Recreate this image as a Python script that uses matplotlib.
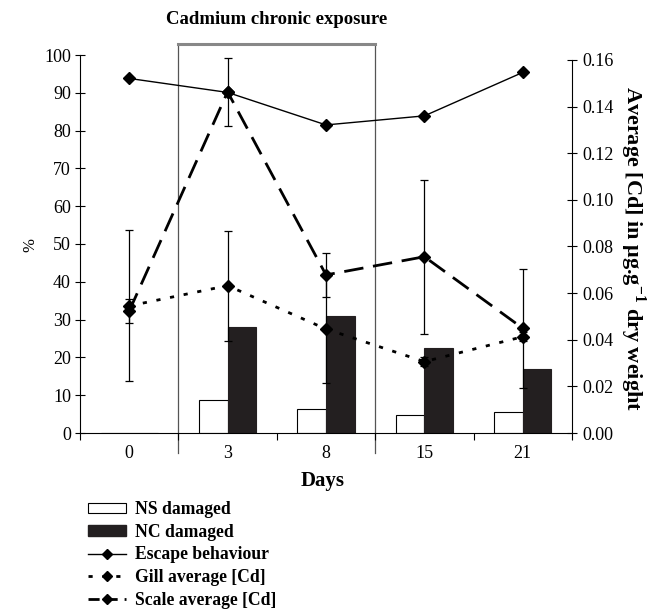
import numpy as np
import matplotlib.pyplot as plt
from matplotlib.lines import Line2D
from matplotlib.patches import Patch
import matplotlib.transforms as mtransforms

plt.rcParams['font.family'] = ['Liberation Serif', 'DejaVu Serif']
plt.rcParams['mathtext.fontset'] = 'custom'
plt.rcParams['mathtext.rm'] = 'Liberation Serif'
plt.rcParams['mathtext.bf'] = 'Liberation Serif:bold'

# dane
days = ['0', '3', '8', '15', '21']
ns_damaged = [0, 8.7, 6.3, 4.7, 5.6]
nc_damaged = [0, 28.0, 31.0, 22.4, 16.8]
escape = [93.8, 90.1, 81.5, 83.9, 95.4]
gill_cd = [0.0545, 0.0632, 0.0446, 0.0306, 0.0413]
gill_err = [0.0324, 0.0236, 0.0232, 0.002, 0.002]
scale_cd = [0.0523, 0.1463, 0.0678, 0.0756, 0.0449]
scale_err = [0.0051, 0.0146, 0.0093, 0.033, 0.0255]

x = np.arange(len(days))
szer = 0.29

fig = plt.figure(figsize=(6.49, 6.11), dpi=100)
ax = fig.add_axes([80/649, 1-433/611, 492/649, 378/611])

ax.bar(x - szer/2, ns_damaged, szer, color='white', edgecolor='black', linewidth=0.8, zorder=2)
ax.bar(x + szer/2, nc_damaged, szer, color='#231f20', edgecolor='#231f20', linewidth=0.8, zorder=2)
ax.plot(x, escape, color='black', lw=1, marker='D', ms=6, zorder=4)

ax.set_xlim(-0.5, 4.5)
ax.set_ylim(0, 100)
ax.set_yticks(range(0, 101, 10))
ax.set_xticks(x)
ax.set_xticklabels(days)
ax.set_xticks(np.arange(-0.5, 4.6, 1), minor=True)
ax.tick_params(axis='x', which='major', length=0, pad=9, labelsize=13)
ax.tick_params(axis='x', which='minor', length=5, direction='out', width=0.8)
ax.tick_params(axis='y', length=7, direction='inout', width=0.8, labelsize=13, pad=3)
ax.spines['top'].set_visible(False)
ax.spines['right'].set_visible(False)

ax2 = ax.twinx()
ax2.errorbar(x, gill_cd, yerr=gill_err, color='black', lw=2, dashes=(1.5, 3.5),
             marker='D', ms=6, ecolor='black', elinewidth=0.9, capsize=3, capthick=0.9, zorder=5)
ax2.errorbar(x, scale_cd, yerr=scale_err, color='black', lw=2, dashes=(7, 3.5),
             marker='D', ms=6, ecolor='black', elinewidth=0.9, capsize=3, capthick=0.9, zorder=5)
ax2.set_ylim(0, 0.16*100/98.7)
ax2.set_yticks(np.arange(0, 0.161, 0.02))
ax2.set_yticklabels([f"{v:.2f}" for v in np.arange(0, 0.161, 0.02)])
ax2.tick_params(axis='y', length=7, direction='inout', width=0.8, labelsize=13, pad=4)
ax2.spines['right'].set_bounds(0, 0.16)
for s in ['top', 'left', 'bottom']:
    ax2.spines[s].set_visible(False)

# ramka ekspozycji
tr = mtransforms.blended_transform_factory(ax.transData, ax.transAxes)
gora = (433-44)/378
dol = (433-453)/378
for xx in [0.5, 2.5]:
    ax.plot([xx, xx], [dol, gora], color='#555555', lw=0.9, transform=tr, clip_on=False, zorder=1)
ax.plot([0.5, 2.5], [gora, gora], color='#888888', lw=2.2, transform=tr, clip_on=False, zorder=1)

fig.text(277/649, 1-20/611, 'Cadmium chronic exposure', ha='center', va='center',
         fontsize=13.5, fontweight='bold')
fig.text(323/649, 1-481/611, 'Days', ha='center', va='center', fontsize=15, fontweight='bold')
fig.text(30/649, 1-245/611, '%', ha='center', va='center', fontsize=12, rotation=90)
fig.text(633/649, 1-248/611, r'Average [Cd] in μg.g$^{\mathbf{-1}}$ dry weight', ha='center', va='center',
         fontsize=16, fontweight='bold', rotation=270)

uchwyty = [
    Patch(facecolor='white', edgecolor='black', linewidth=0.8),
    Patch(facecolor='#231f20', edgecolor='#231f20'),
    Line2D([], [], color='black', lw=1, marker='D', ms=5),
    Line2D([], [], color='black', lw=2, dashes=(1.5, 3.5), marker='D', ms=5),
    Line2D([], [], color='black', lw=2, dashes=(4, 2.5), marker='D', ms=5),
]
etykiety = ['NS damaged', 'NC damaged', 'Escape behaviour', 'Gill average [Cd]', 'Scale average [Cd]']
fig.legend(uchwyty, etykiety, loc='upper left', bbox_to_anchor=(81/649, 1-494/611), frameon=False,
           prop={'weight': 'bold', 'size': 12.7}, handlelength=2.15, handleheight=0.55,
           labelspacing=0.32, handletextpad=0.5, borderaxespad=0)

fig.savefig('out.png', dpi=100)
